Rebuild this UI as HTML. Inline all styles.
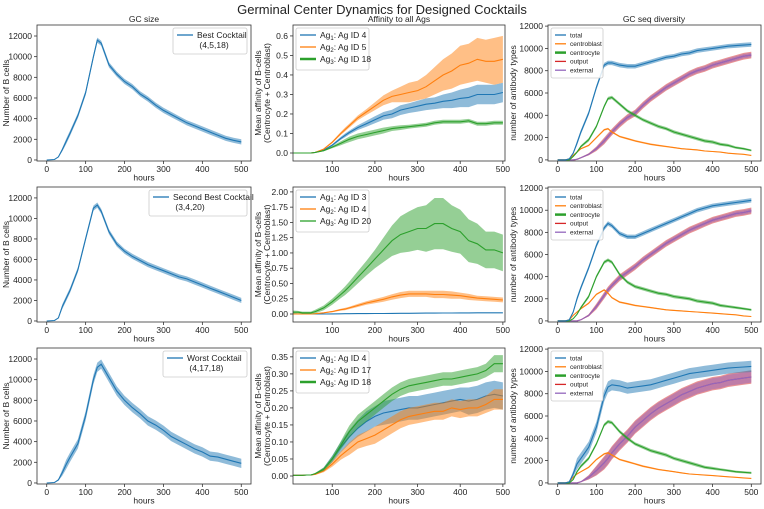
<!DOCTYPE html>
<html><head><meta charset="utf-8"><style>
body{margin:0;background:#fff;}
svg text{font-family:"Liberation Sans","DejaVu Sans",sans-serif;fill:#222;}
</style></head><body>
<svg id="fig" width="764" height="504" viewBox="0 0 764 504" xmlns="http://www.w3.org/2000/svg">
<text x="382" y="14" text-anchor="middle" font-size="13">Germinal Center Dynamics for Designed Cocktails</text>
</svg>
<script>
const hours=[0,20,30,40,50,60,80,100,120,130,140,160,180,200,220,240,260,280,300,320,340,360,380,400,420,440,460,480,500];
// GC size
const gcBest=[0,50,300,1000,1800,2600,4300,6500,10000,11600,11300,9200,8300,7600,7100,6400,5900,5300,4800,4400,4000,3600,3300,3000,2700,2400,2100,1900,1750];
const gcSecond=[0,50,300,1400,2200,3000,5000,8000,11000,11300,10700,8700,7500,6800,6300,5900,5500,5200,4900,4600,4300,4100,3800,3500,3200,2900,2600,2300,2000];
const gcWorst=[0,50,300,1000,1800,2500,3800,6500,10000,11200,11500,10200,8900,8000,7300,6700,6000,5600,5100,4500,4100,3700,3300,3000,2600,2500,2300,2100,1900];
// Affinity row 1
const aff1Ag1=[0,0,0,0,0,0.003,0.015,0.04,0.075,0.09,0.105,0.13,0.15,0.17,0.19,0.2,0.22,0.23,0.24,0.25,0.255,0.265,0.27,0.28,0.285,0.3,0.3,0.3,0.31];
const aff1Ag1Band=[0,0,0,0,0,0.001,0.003,0.005,0.008,0.01,0.01,0.012,0.015,0.018,0.02,0.022,0.025,0.025,0.028,0.03,0.03,0.035,0.04,0.045,0.05,0.05,0.05,0.05,0.05];
const aff1Ag2=[0,0,0,0,0,0.003,0.02,0.055,0.1,0.12,0.14,0.18,0.21,0.24,0.27,0.29,0.3,0.31,0.32,0.34,0.37,0.4,0.42,0.45,0.46,0.48,0.47,0.47,0.48];
const aff1Ag2Band=[0,0,0,0,0,0.001,0.003,0.005,0.008,0.01,0.01,0.012,0.015,0.02,0.025,0.03,0.04,0.05,0.05,0.06,0.07,0.08,0.09,0.1,0.1,0.11,0.11,0.12,0.12];
const aff1Ag3=[0,0,0,0,0,0.003,0.012,0.03,0.05,0.06,0.07,0.085,0.095,0.105,0.115,0.125,0.13,0.135,0.14,0.145,0.155,0.16,0.16,0.16,0.165,0.15,0.15,0.155,0.155];
const aff1Ag3Band=[0,0,0,0,0,0.001,0.003,0.006,0.01,0.012,0.014,0.015,0.015,0.015,0.015,0.012,0.012,0.01,0.01,0.01,0.01,0.01,0.01,0.01,0.01,0.01,0.01,0.01,0.01];
// Affinity row 2
const aff2Ag1=[0,0,0,0,0,0,0,0.002,0.004,0.005,0.005,0.006,0.007,0.008,0.009,0.01,0.011,0.012,0.013,0.014,0.015,0.016,0.017,0.018,0.018,0.019,0.02,0.02,0.02];
const aff2Ag1Band=[0,0,0,0,0,0,0,0,0,0,0,0,0,0,0,0,0,0,0,0,0,0,0,0,0,0,0,0,0];
const aff2Ag2=[0,0,0,0,0,0.005,0.02,0.04,0.07,0.08,0.1,0.14,0.18,0.21,0.24,0.28,0.31,0.33,0.33,0.33,0.32,0.32,0.31,0.3,0.28,0.26,0.25,0.24,0.23];
const aff2Ag2Band=[0,0,0,0,0,0.002,0.005,0.01,0.015,0.02,0.02,0.025,0.03,0.035,0.04,0.045,0.05,0.05,0.05,0.05,0.06,0.06,0.06,0.05,0.05,0.04,0.04,0.04,0.04];
const aff2Ag3=[0.03,0.03,0.02,0.02,0.02,0.04,0.1,0.2,0.32,0.38,0.45,0.6,0.75,0.9,1.05,1.2,1.3,1.35,1.4,1.4,1.48,1.48,1.4,1.35,1.2,1.15,1.05,1.05,1.0];
const aff2Ag3Band=[0.03,0.02,0.02,0.02,0.02,0.03,0.04,0.05,0.06,0.07,0.08,0.1,0.12,0.15,0.2,0.25,0.3,0.33,0.35,0.38,0.42,0.42,0.38,0.36,0.35,0.33,0.3,0.3,0.3];
// Affinity row 3
const aff3Ag1=[0.002,0.002,0.002,0.003,0.003,0.006,0.02,0.05,0.085,0.1,0.115,0.14,0.16,0.175,0.185,0.19,0.195,0.2,0.2,0.205,0.21,0.215,0.22,0.225,0.22,0.225,0.235,0.24,0.235];
const aff3Ag1Band=[0,0,0,0,0.001,0.002,0.005,0.01,0.015,0.018,0.02,0.025,0.03,0.03,0.035,0.035,0.035,0.035,0.035,0.035,0.035,0.035,0.035,0.035,0.04,0.04,0.04,0.04,0.04];
const aff3Ag2=[0.002,0.002,0.002,0.003,0.003,0.005,0.015,0.035,0.06,0.07,0.08,0.1,0.11,0.12,0.135,0.15,0.165,0.175,0.18,0.185,0.19,0.19,0.2,0.195,0.2,0.2,0.21,0.225,0.225];
const aff3Ag2Band=[0,0,0,0,0.001,0.002,0.004,0.008,0.012,0.015,0.018,0.02,0.022,0.025,0.025,0.025,0.025,0.025,0.025,0.025,0.025,0.025,0.025,0.025,0.025,0.025,0.025,0.03,0.03];
const aff3Ag3=[0.002,0.002,0.002,0.003,0.003,0.007,0.02,0.05,0.09,0.11,0.13,0.16,0.18,0.2,0.22,0.24,0.255,0.265,0.27,0.275,0.28,0.285,0.285,0.29,0.295,0.3,0.31,0.33,0.33];
const aff3Ag3Band=[0,0,0,0,0.001,0.002,0.005,0.008,0.012,0.015,0.018,0.02,0.02,0.02,0.02,0.02,0.02,0.02,0.02,0.02,0.02,0.02,0.02,0.02,0.02,0.02,0.02,0.025,0.025];
// Diversity rows
const div1Total=[0,0,100,600,1500,2500,4200,6500,8500,8700,8700,8500,8400,8400,8600,8800,9000,9200,9300,9500,9600,9800,9900,10000,10100,10200,10250,10300,10350];
const div1Blast=[0,0,100,400,700,1000,1300,2000,2700,2800,2500,2100,1900,1700,1550,1400,1300,1200,1100,1000,950,900,800,750,700,600,550,500,400];
const div1Cyte=[0,0,0,300,700,1200,1800,3000,4800,5500,5600,5000,4400,4000,3600,3300,3000,2800,2500,2300,2100,1900,1700,1600,1400,1300,1100,1000,850];
const div1Ext=[0,0,0,0,50,200,500,1000,1700,2100,2500,3200,3800,4200,4900,5500,6000,6500,6900,7300,7700,8000,8200,8500,8700,8900,9100,9300,9400];
const div2Total=[0,0,100,800,2000,3000,4800,6800,8400,8800,8600,7900,7600,7600,7900,8200,8500,8800,9100,9400,9700,10000,10200,10400,10500,10600,10700,10800,10900];
const div2Blast=[0,0,100,500,800,1100,1600,2400,2800,2500,2100,1700,1550,1400,1300,1200,1100,1000,950,900,850,800,750,700,650,600,550,450,400];
const div2Cyte=[0,0,0,200,600,1200,2200,4000,5300,5500,5300,4200,3500,3100,2900,2700,2500,2400,2200,2100,2000,1800,1700,1600,1400,1300,1200,1100,1000];
const div2Ext=[0,0,0,0,0,100,500,1300,2300,2800,3200,3900,4400,4900,5500,6000,6500,7000,7400,7800,8200,8500,8800,9100,9300,9500,9700,9800,9950];
const div3Total=[0,0,100,800,1700,2200,3200,5000,7800,8600,8800,8700,8500,8600,8700,8800,9000,9200,9400,9600,9800,9900,10000,10100,10200,10300,10350,10400,10450];
const div3Blast=[0,0,100,500,800,1000,1400,2100,2600,2700,2500,2100,1900,1700,1500,1350,1200,1100,1000,900,800,750,700,650,600,550,500,450,400];
const div3Cyte=[0,0,0,300,1000,1500,2200,3500,5200,5500,5400,4600,4000,3500,3200,2900,2700,2500,2200,2000,1800,1600,1400,1300,1200,1100,1000,950,900];
const div3Ext=[0,0,0,0,0,100,500,1100,1800,2200,2700,3500,4200,5000,5600,6200,6700,7100,7500,7900,8200,8500,8700,8900,9000,9200,9300,9400,9500];
const xTicksFull=[0,100,200,300,400,500];
const xTicksAff=[100,200,300,400,500];
const yTicksCount=[0,2000,4000,6000,8000,10000,12000];
const yTicksAff1=[0,0.1,0.2,0.3,0.4,0.5,0.6];
const yTicksAff2=[0,0.25,0.5,0.75,1,1.25,1.5,1.75,2];
const yTicksAff3=[0,0.05,0.1,0.15,0.2,0.25,0.3,0.35];

const C={blue:'#1f77b4',orange:'#ff7f0e',green:'#2ca02c',red:'#d62728',purple:'#9467bd'};
const svg=document.getElementById('fig');
const NS='http://www.w3.org/2000/svg';
function mk(tag,attrs,parent){const e=document.createElementNS(NS,tag);for(const k in attrs)e.setAttribute(k,attrs[k]);(parent||svg).appendChild(e);return e;}
const cols=[[37,251],[293,505],[548,761]];
const rows=[[25,161],[187,322],[348,484]];

function bw(s,i){ if(Array.isArray(s.b)) return s.b[i]; return s.b*Math.min(1,s.v[i]/1500); }
function panel(name,ci,ri,xlim,ylim,xt,yt,fmt,series){
  const [L,R]=cols[ci],[T,B]=rows[ri];
  const g=mk('g',{});
  
  
  const sx=v=>L+(v-xlim[0])/(xlim[1]-xlim[0])*(R-L);
  const sy=v=>B-(v-ylim[0])/(ylim[1]-ylim[0])*(B-T);
  const clipId='c'+ci+ri;
  const cp=mk('clipPath',{id:clipId},g);mk('rect',{x:L,y:T,width:R-L,height:B-T},cp);
  const plot=mk('g',{'clip-path':'url(#'+clipId+')'},g);
  series.forEach(s=>{
    const up=s.v.map((v,i)=>sx(hours[i]).toFixed(1)+','+sy(v+bw(s,i)).toFixed(1));
    const lo=s.v.map((v,i)=>sx(hours[i]).toFixed(1)+','+sy(v-bw(s,i)).toFixed(1)).reverse();
    const band=mk('polygon',{points:up.concat(lo).join(' '),fill:s.c,'fill-opacity':0.5,stroke:'none'},plot);
    
    
    const line=mk('polyline',{points:s.v.map((v,i)=>sx(hours[i]).toFixed(1)+','+sy(v).toFixed(1)).join(' '),fill:'none',stroke:s.c,'stroke-width':1.1},plot);
    
    
  });
  mk('rect',{x:L,y:T,width:R-L,height:B-T,fill:'none',stroke:'#333','stroke-width':0.8},g);
  xt.forEach(t=>{const x=sx(t);mk('line',{x1:x,x2:x,y1:B,y2:B+3,stroke:'#333','stroke-width':0.8},g);
    const tx=mk('text',{x:x,y:B+11,'text-anchor':'middle','font-size':8.5},g);tx.textContent=t;
    
    });
  yt.forEach(t=>{const y=sy(t);mk('line',{x1:L-3,x2:L,y1:y,y2:y,stroke:'#333','stroke-width':0.8},g);
    const tx=mk('text',{x:L-5,y:y+3,'text-anchor':'end','font-size':8.5},g);tx.textContent=fmt(t);
    
    });
  const xl=mk('text',{x:(L+R)/2,y:B+19.5,'text-anchor':'middle','font-size':8.5},g);xl.textContent='hours';
  
  
  return g;
}
function legend(ci,ri,w,items,fs,lh,lineW){
  const [L]=cols[ci],[T]=rows[ri];
  const x0=ci===0?cols[0][1]-4-w:L+3, y0=T+3;
  const g=mk('g',{});
  
  
  mk('rect',{x:x0,y:y0,width:w,height:items.length*lh+6,fill:'#fff','fill-opacity':0.85,stroke:'#ccc','stroke-width':0.8,rx:2},g);
  items.forEach((it,i)=>{const y=y0+7+i*lh;
    mk('line',{x1:x0+4,x2:x0+4+lineW,y1:y,y2:y,stroke:it.c,'stroke-width':it.w||1.3},g);
    const t=mk('text',{x:x0+8+lineW,y:y+fs*0.35,'font-size':fs},g);t.innerHTML=it.t;
    
    });
}
const f0=t=>String(t), f1=t=>t.toFixed(1), f2=t=>t.toFixed(2);
const XL=[-25,525], XA=[8,505], YC1=[-100,13065], YC3=[-100,12100];
panel('gc-size-best',0,0,XL,YC1,xTicksFull,yTicksCount,f0,[{n:'gc-best',v:gcBest,b:250,c:C.blue}]);
panel('gc-size-second',0,1,XL,YC1,xTicksFull,yTicksCount,f0,[{n:'gc-second',v:gcSecond,b:250,c:C.blue}]);
panel('gc-size-worst',0,2,XL,YC1,xTicksFull,yTicksCount,f0,[{n:'gc-worst',v:gcWorst,b:450,c:C.blue}]);
panel('affinity-best',1,0,XA,[-0.041,0.656],xTicksAff,yTicksAff1,f1,[
 {n:'ag1',v:aff1Ag1,b:aff1Ag1Band,c:C.blue},{n:'ag2',v:aff1Ag2,b:aff1Ag2Band,c:C.orange},{n:'ag3',v:aff1Ag3,b:aff1Ag3Band,c:C.green}]);
panel('affinity-second',1,1,XA,[-0.131,2.08],xTicksAff,yTicksAff2,f2,[
 {n:'ag1',v:aff2Ag1,b:aff2Ag1Band,c:C.blue},{n:'ag2',v:aff2Ag2,b:aff2Ag2Band,c:C.orange},{n:'ag3',v:aff2Ag3,b:aff2Ag3Band,c:C.green}]);
panel('affinity-worst',1,2,XA,[-0.0235,0.376],xTicksAff,yTicksAff3,f2,[
 {n:'ag1',v:aff3Ag1,b:aff3Ag1Band,c:C.blue},{n:'ag2',v:aff3Ag2,b:aff3Ag2Band,c:C.orange},{n:'ag3',v:aff3Ag3,b:aff3Ag3Band,c:C.green}]);
[[div1Total,div1Blast,div1Cyte,div1Ext,200],[div2Total,div2Blast,div2Cyte,div2Ext,200],[div3Total,div3Blast,div3Cyte,div3Ext,500]].forEach((d,ri)=>{
  panel('diversity-row'+(ri+1),2,ri,XL,YC3,xTicksFull,yTicksCount,f0,[
   {n:'output',v:d[3],b:d[4]+100,c:C.red},
   {n:'external',v:d[3],b:d[4],c:C.purple},
   {n:'centroblast',v:d[1],b:80,c:C.orange},
   {n:'centrocyte',v:d[2],b:150,c:C.green},
   {n:'total',v:d[0],b:d[4],c:C.blue}]);
});
legend(0,0,74,[{t:'Best Cocktail',c:C.blue},{t:'&#160;(4,5,18)',c:'none'}],8.5,10,16);
legend(0,1,98,[{t:'Second Best Cocktail',c:C.blue},{t:'&#160;(3,4,20)',c:'none'}],8.5,10,16);
legend(0,2,84,[{t:'Worst Cocktail',c:C.blue},{t:'&#160;(4,17,18)',c:'none'}],8.5,10,16);
const agL=[['4','5','18'],['3','4','20'],['4','17','18']];
agL.forEach((a,ri)=>legend(1,ri,73,[
 {t:'Ag<tspan font-size="6" dy="2">1</tspan><tspan dy="-2">: Ag ID '+a[0]+'</tspan>',c:C.blue},
 {t:'Ag<tspan font-size="6" dy="2">2</tspan><tspan dy="-2">: Ag ID '+a[1]+'</tspan>',c:C.orange},
 {t:'Ag<tspan font-size="6" dy="2">3</tspan><tspan dy="-2">: Ag ID '+a[2]+'</tspan>',c:C.green,w:ri===1?1.3:2.5}],8.5,12,16));
[0,1,2].forEach(ri=>legend(2,ri,52,[{t:'total',c:C.blue},{t:'centroblast',c:C.orange},{t:'centrocyte',c:C.green,w:2.5},{t:'output',c:C.red},{t:'external',c:C.purple}],6.5,8.8,11));
function txt(s,x,y,fs,name,rot){const t=mk('text',{x:x,y:y,'text-anchor':'middle','font-size':fs});t.textContent=s;
  if(rot)t.setAttribute('transform','rotate(-90 '+x+' '+y+')');
  
  }
txt('GC size',144,22,8.5,'subplot-title-gc-size');
txt('Affinity to all Ags',399,22,8.5,'subplot-title-affinity');
txt('GC seq diversity',654,22,8.5,'subplot-title-diversity');
rows.forEach((r,ri)=>{const cy=(r[0]+r[1])/2;
  txt('Number of B cells',9,cy,8.5,'y-axis-title',true);
  txt('Mean affinity of B-cells',261,cy,8.5,'y-axis-title',true);
  txt('(Centrocyte + Centroblast)',270,cy,8.5,'y-axis-title',true);
  txt('number of antibody types',516,cy,8.5,'y-axis-title',true);});
</script>
</body></html>
